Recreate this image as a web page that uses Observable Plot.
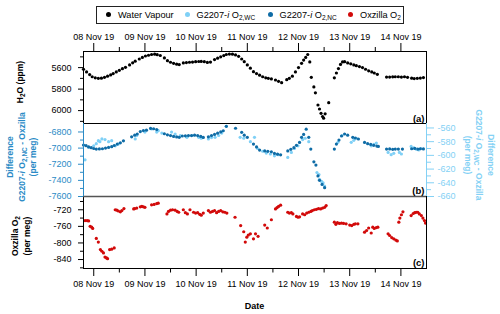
<!DOCTYPE html>
<html><head><meta charset="utf-8">
<script src="https://cdn.jsdelivr.net/npm/d3@7"></script>
<script src="https://cdn.jsdelivr.net/npm/@observablehq/plot@0.6"></script>
<style>
body{margin:0;background:#fff;}
#chart{position:relative;width:500px;height:314px;overflow:hidden;font-family:"Liberation Sans",Arial,sans-serif;color:#000;background:#fff;}
.panel{position:absolute;left:0;}
.lbl{position:absolute;white-space:nowrap;text-align:center;font-weight:bold;font-size:8.5px;line-height:11.5px;transform:translate(-50%,-50%) rotate(-90deg);}
.lbl.r{transform:translate(-50%,-50%) rotate(90deg);}
.lbl sub,.leg sub{font-size:6.5px;vertical-align:-2px;line-height:0;}
.leg{position:absolute;font-size:9.2px;line-height:10px;white-space:nowrap;top:9.5px;}
.dot{position:absolute;width:5px;height:5px;border-radius:50%;top:12px;}
</style></head><body><div id="chart"></div>
<script>
// ---------- data (day offset from 08 Nov 2019 00:00 UTC, value) ----------
const waterVapour = [
[-0.20,5615],[-0.14,5640],[-0.08,5665],[-0.03,5685],[0.03,5695],[0.09,5700],[0.15,5698],[0.21,5690],[0.27,5680],[0.33,5668],[0.38,5655],[0.44,5640],[0.50,5625],[0.56,5610],[0.62,5597],
[0.70,5575],[0.76,5555],[0.81,5540],
[0.89,5520],[0.95,5505],[1.01,5492],[1.07,5485],
[1.13,5478],[1.19,5475],[1.24,5480],[1.30,5487],
[1.38,5510],[1.44,5535],[1.50,5550],[1.56,5560],[1.62,5568],[1.67,5572],
[1.75,5556],[1.81,5553],[1.87,5550],[1.93,5548],[1.99,5545],[2.05,5543],[2.10,5542],[2.16,5545],[2.22,5552],[2.28,5548],
[2.36,5525],[2.42,5512],[2.48,5500],[2.54,5488],[2.59,5478],[2.65,5474],[2.71,5475],[2.77,5482],
[2.83,5495],[2.89,5520],[2.94,5545],[3.00,5575],[3.06,5605],[3.12,5638],[3.18,5655],[3.24,5670],[3.30,5685],[3.36,5695],
[3.41,5700],[3.47,5705],
[3.55,5715],[3.61,5728],[3.67,5740],
[3.77,5712],[3.82,5700],[3.88,5680],[3.94,5640],[4.00,5600],[4.06,5560],[4.10,5530],[4.14,5505],[4.18,5478],[4.22,5547],
[4.25,5690],[4.30,5780],[4.33,5835],[4.38,5948],[4.41,5985],[4.44,6025],[4.47,6055],[4.49,6070],[4.52,6030],[4.59,5926],
[4.70,5695],[4.74,5650],[4.78,5609],[4.82,5570],[4.86,5547],[4.90,5545],[4.96,5556],[5.02,5565],[5.08,5575],[5.13,5582],[5.19,5590],
[5.25,5600],[5.31,5615],[5.37,5630],[5.43,5640],[5.48,5650],[5.54,5662],
[5.72,5688],[5.78,5688],[5.84,5686],[5.89,5685],[5.95,5685],
[6.01,5688],[6.07,5685],[6.13,5690],
[6.21,5698],[6.26,5702],[6.32,5700],[6.38,5697],[6.44,5693]
];
const diffNC = [
[-0.20,-6962],[-0.15,-6970],[-0.10,-6985],[-0.05,-6995],[0.00,-7005],[0.05,-7012],[0.11,-7010],[0.17,-7008],[0.23,-7000],[0.29,-6992],[0.35,-6982],[0.40,-6968],[0.46,-6950],[0.52,-6935],[0.58,-6910],
[0.74,-6860],[0.80,-6840],[0.85,-6825],
[0.91,-6795],[0.97,-6783],[1.03,-6778],
[1.11,-6756],[1.17,-6760],[1.23,-6770],
[1.38,-6822],[1.44,-6835],[1.50,-6845],[1.56,-6855],[1.62,-6862],[1.67,-6866],
[1.73,-6850],[1.79,-6848],[1.85,-6845],[1.91,-6845],
[1.97,-6840],[2.03,-6845],[2.09,-6855],[2.14,-6868],
[2.24,-6860],[2.30,-6845],[2.36,-6830],[2.42,-6815],[2.48,-6800],[2.53,-6785],[2.59,-6730],
[2.77,-6754],[2.89,-6805],[2.94,-6840],[3.00,-6866],[3.12,-6950],
[3.18,-6985],[3.24,-7025],[3.34,-7035],[3.40,-7040],[3.47,-7045],[3.53,-7066],[3.59,-7075],[3.65,-7083],
[3.79,-7035],[3.85,-7015],[3.91,-6995],[3.96,-6965],[4.02,-6930],[4.06,-6866],[4.10,-6830],[4.15,-6765],[4.20,-6866],[4.24,-7012],
[4.30,-7170],[4.34,-7210],[4.38,-7345],[4.41,-7400],[4.46,-7450],[4.51,-7490],
[4.70,-7012],[4.74,-6950],[4.79,-6900],[4.84,-6850],[4.90,-6825],[4.96,-6840],
[5.06,-6866],[5.11,-6875],[5.17,-6887],
[5.29,-6929],[5.35,-6945],[5.41,-6955],[5.47,-6965],[5.53,-6975],[5.56,-6979],
[5.72,-7012],[5.78,-7010],[5.84,-7015],[5.89,-7012],[5.95,-7012],[6.03,-7012],
[6.21,-7008],[6.27,-7004],[6.33,-7012],[6.38,-7008],[6.44,-7010]
];
const diffWC = [
[-0.17,-606.5],[-0.10,-588],[0.00,-586],[0.05,-583],[0.09,-578.5],[0.12,-580],[0.16,-576],[0.22,-577],[0.29,-580],[0.35,-578.5],[0.42,-586],[0.48,-583.5],
[0.81,-576],[0.84,-571],[1.00,-566],[1.13,-561.5],[1.23,-566],[1.26,-564],[1.33,-567.5],[1.52,-566],[1.59,-569],[1.69,-571],[1.82,-573.7],[1.92,-571],[2.05,-573.7],[2.10,-575],[2.24,-576],[2.30,-574],[2.37,-573.7],[2.44,-571],[2.50,-567.5],[2.59,-557.5],[2.86,-573.7],[2.93,-575],[3.06,-580],
[3.14,-573.7],[3.20,-590],[3.30,-594],[3.37,-596.7],[3.45,-598],[3.53,-600.6],[3.60,-599],[3.79,-603],[3.86,-595.7],[3.92,-590],[3.99,-586],[4.08,-577],[4.13,-575],[4.20,-580],[4.36,-625],[4.40,-628],[4.41,-635],[4.45,-638],[4.48,-640],[4.51,-644.7],
[4.77,-581],[4.85,-571],[5.03,-581],[5.08,-578],[5.13,-575],[5.42,-586],[5.47,-584],[5.52,-582],[5.75,-595.7],[5.81,-599],[5.86,-597],[5.97,-595.7],[6.01,-598],[6.20,-587],[6.25,-589],[6.30,-591],[6.35,-592],[6.39,-590]
];
const oxzilla = [
[-0.17,-746],[-0.13,-746],[-0.10,-747],[-0.07,-760],[-0.04,-762],[-0.02,-765],
[0.05,-789],[0.09,-798],[0.13,-816],[0.16,-820],[0.19,-824],[0.22,-834],[0.25,-836],[0.27,-838],
[0.31,-816],[0.35,-815],[0.40,-812],
[0.42,-720],[0.45,-721],[0.48,-723],[0.52,-725],[0.55,-722],[0.59,-717],
[0.78,-718],[0.80,-717],[0.84,-716],
[0.91,-713],[0.94,-712],[0.97,-713],[1.00,-714],
[1.13,-708],[1.18,-707],[1.23,-705],[1.26,-704],
[1.43,-730],[1.46,-724],[1.50,-721],[1.54,-720],[1.59,-721],[1.63,-724],[1.66,-726],
[1.75,-720],[1.79,-727],[1.83,-730],[1.88,-720],
[1.95,-726],[1.99,-728],[2.03,-727],[2.07,-731],[2.10,-733],[2.14,-728],
[2.24,-722],[2.28,-726],[2.32,-724],[2.36,-722],[2.40,-727],[2.44,-724],[2.48,-722],[2.52,-725],[2.56,-726],[2.60,-728],
[2.76,-738],
[2.87,-758],[2.93,-773],[2.96,-798],[2.99,-786],[3.02,-781],[3.06,-778],[3.12,-790],[3.16,-778],[3.21,-784],
[3.34,-757],[3.39,-764],[3.47,-744],
[3.55,-718],[3.58,-715],[3.61,-712],[3.65,-709],
[3.79,-726],[3.82,-728],[3.86,-727],[3.89,-730],
[3.96,-736],[3.99,-738],[4.02,-737],
[4.08,-730],[4.12,-732],[4.16,-728],[4.20,-726],[4.24,-724],[4.27,-722],[4.31,-720],[4.35,-719],[4.39,-717],[4.43,-718],[4.47,-716],[4.51,-714],[4.54,-710],
[4.70,-750],[4.73,-755],[4.76,-751],[4.80,-753],[4.84,-752],[4.88,-753],[4.93,-754],
[5.00,-757],[5.04,-758],[5.08,-755],[5.11,-754],[5.16,-754],
[5.29,-774],[5.33,-770],[5.37,-764],[5.42,-776],[5.45,-762],[5.48,-765],[5.52,-763],[5.55,-762],
[5.75,-778],[5.78,-782],[5.82,-787],[5.86,-790],[5.90,-793],[5.93,-795],
[5.96,-750],[5.98,-740],[6.01,-732],[6.04,-725],
[6.20,-734],[6.24,-729],[6.27,-727],[6.30,-726],[6.33,-726],[6.36,-730],
[6.40,-734],[6.43,-740],[6.46,-746],[6.48,-752]
];
// ---------- axis ticks ----------
const dayTickOffsets = [0,1,2,3,4,5,6];
const halfDayTickOffsets = [0.5,1.5,2.5,3.5,4.5,5.5];
const h2oMajor = [5600,5800,6000], h2oMinor = [5500,5700,5900,6100];
const ncMajor = [-6800,-7000,-7200,-7400,-7600], ncMinor = [-6900,-7100,-7300,-7500];
const wcMajor = [-560,-580,-600,-620,-640,-660], wcMinor = [-570,-590,-610,-630,-650];
const oxMajor = [-720,-760,-800,-840], oxMinor = [-700,-740,-780,-820,-860];

// ---------- setup ----------
const base = Date.UTC(2019,10,8);
const toDate = d => new Date(base + d*864e5);
const xDomain = [toDate(-0.2), toDate(6.5)];
const dayTicks = dayTickOffsets.map(toDate), halfTicks = halfDayTickOffsets.map(toDate);
const fmtDay = d3.utcFormat("%d %b %y");
const C = {black:"#000", light:"#7fd0f6", dark:"#0f6ca6", red:"#d20a0a", leftAxis:"#2b8bc6", rightAxis:"#84d1f5"};
const ncDomain = [-7600,-6695], wcDomain = [-660,-553.5];
const wcToNc = d3.scaleLinear().domain(wcDomain).range(ncDomain);
const blank = () => "";
const common = {width:500, marginLeft:83, marginRight:74,
  style:{background:"transparent", overflow:"visible", fontFamily:"Liberation Sans, Arial, sans-serif", fontSize:"9px", color:"#000"}};
const X = d => toDate(d[0]), Y = d => d[1];

const pa = Plot.plot({...common, height:123, marginTop:51, marginBottom:0,
  x:{type:"utc", domain:xDomain}, y:{domain:[5450,6120], reverse:true},
  marks:[
    Plot.axisX(dayTicks,{anchor:"top", tickSize:9, tickPadding:3, tickFormat:fmtDay, label:null}),
    Plot.axisX(halfTicks,{anchor:"top", tickSize:5, tickFormat:blank, label:null}),
    Plot.axisY(h2oMajor,{anchor:"left", tickSize:5, tickPadding:7, tickFormat:d=>String(d), label:null}),
    Plot.axisY(h2oMinor,{anchor:"left", tickSize:3, tickFormat:blank, label:null}),
    Plot.dot(waterVapour,{x:X, y:Y, r:1.6, fill:C.black, stroke:null}),
    Plot.frame({stroke:"#000"}),
    Plot.text(["(a)"],{frameAnchor:"bottom-right", dx:-2, dy:-2, fontWeight:"bold", fontSize:9.5})
  ]});

const pb = Plot.plot({...common, height:73, marginTop:0, marginBottom:0,
  x:{type:"utc", domain:xDomain, axis:null}, y:{domain:ncDomain},
  marks:[
    Plot.axisY(ncMajor,{anchor:"left", tickSize:5, tickPadding:7, tickFormat:d=>String(d), color:C.leftAxis, label:null}),
    Plot.axisY(ncMinor,{anchor:"left", tickSize:3, tickFormat:blank, color:C.leftAxis, label:null}),
    Plot.axisY(wcMajor.map(wcToNc),{anchor:"right", tickSize:7, tickPadding:4, tickFormat:d=>String(Math.round(wcToNc.invert(d))), color:C.rightAxis, label:null}),
    Plot.axisY(wcMinor.map(wcToNc),{anchor:"right", tickSize:4, tickFormat:blank, color:C.rightAxis, label:null}),
    Plot.dot(diffWC,{x:X, y:d=>wcToNc(d[1]), r:1.6, fill:C.light, stroke:null}),
    Plot.dot(diffNC,{x:X, y:Y, r:1.6, fill:C.dark, stroke:null}),
    Plot.ruleY([ncDomain[1]],{stroke:"#000"}),
    Plot.ruleY([ncDomain[0]],{stroke:"#555", strokeWidth:1.6}),
    Plot.ruleX([xDomain[0]],{stroke:C.leftAxis}),
    Plot.ruleX([xDomain[1]],{stroke:C.rightAxis}),
    Plot.text(["(b)"],{frameAnchor:"bottom-right", dx:-2, dy:-3, fontWeight:"bold", fontSize:9.5})
  ]});

const pc = Plot.plot({...common, height:118, marginTop:0, marginBottom:46,
  x:{type:"utc", domain:xDomain}, y:{domain:[-861.6,-688]},
  marks:[
    Plot.axisX(dayTicks,{anchor:"bottom", tickSize:8, tickPadding:4, tickFormat:fmtDay, label:null}),
    Plot.axisX(halfTicks,{anchor:"bottom", tickSize:4.5, tickFormat:blank, label:null}),
    Plot.axisY(oxMajor,{anchor:"left", tickSize:5, tickPadding:7, tickFormat:d=>String(d), label:null}),
    Plot.axisY(oxMinor,{anchor:"left", tickSize:3, tickFormat:blank, label:null}),
    Plot.dot(oxzilla,{x:X, y:Y, r:1.6, fill:C.red, stroke:null}),
    Plot.frame({stroke:"#000"}),
    Plot.text(["(c)"],{frameAnchor:"bottom-right", dx:-2, dy:-3, fontWeight:"bold", fontSize:9.5})
  ]});

const chart = document.getElementById("chart");
function place(svg, top){ const d=document.createElement("div"); d.className="panel"; d.style.top=top+"px"; d.appendChild(svg); chart.appendChild(d); }
place(pa,0); place(pc,196); place(pb,123);

function label(html, x, y, color, cls){ const d=document.createElement("div"); d.className="lbl"+(cls?" "+cls:""); d.style.left=x+"px"; d.style.top=y+"px"; d.style.color=color; d.innerHTML=html; chart.appendChild(d); }
label("H<sub>2</sub>O (ppm)", 21, 82, "#000");
label("Difference<br>G2207-<i>i</i> O<sub>2,NC</sub> - Oxzilla<br>(per meg)", 21.5, 157, C.leftAxis);
label("Oxzilla O<sub>2</sub><br>(per meg)", 21, 236, "#000");
label("Difference<br>G2207-<i>i</i> O<sub>2,WC</sub> - Oxzilla<br>(per meg)", 478.5, 155, C.rightAxis, "r");
const date = document.createElement("div");
date.style.cssText="position:absolute;left:254.5px;top:306px;transform:translate(-50%,-50%);font-weight:bold;font-size:9px;";
date.textContent="Date"; chart.appendChild(date);

// legend
const box = document.createElement("div");
box.style.cssText="position:absolute;left:96px;top:6px;width:308px;height:18px;border:1px solid #222;box-sizing:border-box;";
chart.appendChild(box);
const legendItems = [
  {dx:108.3, tx:118, color:C.black, html:"Water Vapour"},
  {dx:187.3, tx:196.5, color:C.light, html:"G2207-<i>i</i> O<sub>2,WC</sub>"},
  {dx:270.7, tx:279.5, color:C.dark, html:"G2207-<i>i</i> O<sub>2,NC</sub>"},
  {dx:350.7, tx:360, color:C.red, html:"Oxzilla O<sub>2</sub>"}
];
for (const it of legendItems){
  const dt=document.createElement("div"); dt.className="dot"; dt.style.left=(it.dx-2.5)+"px"; dt.style.background=it.color; chart.appendChild(dt);
  const t=document.createElement("div"); t.className="leg"; t.style.left=it.tx+"px"; t.innerHTML=it.html; chart.appendChild(t);
}
</script></body></html>
